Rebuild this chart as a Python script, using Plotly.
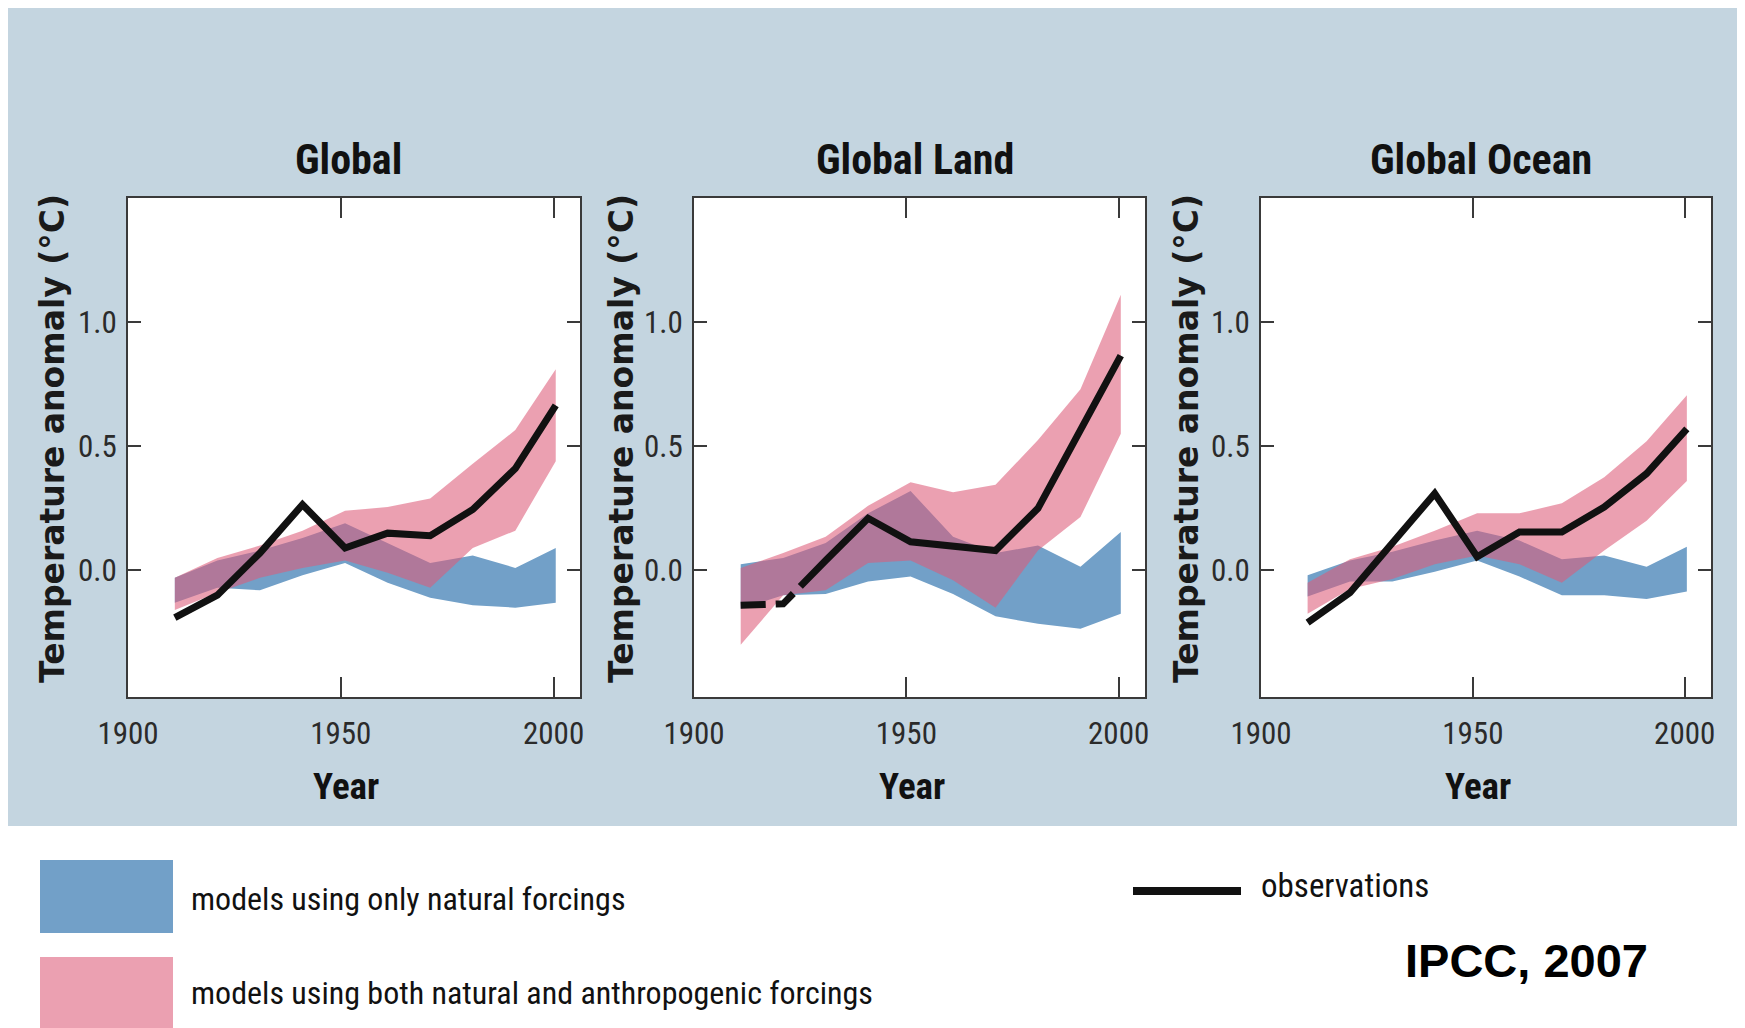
import plotly.graph_objects as go

# ---------------- data ----------------
years = [1911, 1921, 1931, 1941, 1951, 1961, 1971, 1981, 1991, 2000.5]

panel_titles = ["Global", "Global Land", "Global Ocean"]
x_ticks = [1900, 1950, 2000]
y_ticks = [0.0, 0.5, 1.0]
y_tick_text = ["0.0", "0.5", "1.0"]

# Global
obs_global     = [-0.19, -0.10, 0.07, 0.265, 0.09, 0.15, 0.14, 0.245, 0.41, 0.665]
both_hi_global = [-0.03, 0.05, 0.10, 0.16, 0.24, 0.255, 0.29, 0.43, 0.565, 0.81]
both_lo_global = [-0.16, -0.09, -0.03, 0.01, 0.04, -0.01, -0.07, 0.09, 0.16, 0.44]
nat_hi_global  = [-0.03, 0.04, 0.08, 0.13, 0.19, 0.11, 0.03, 0.06, 0.01, 0.09]
nat_lo_global  = [-0.13, -0.07, -0.08, -0.02, 0.03, -0.05, -0.11, -0.14, -0.15, -0.13]

# Global Land
obs_land     = [-0.14, -0.135, 0.04, 0.21, 0.115, 0.10, 0.08, 0.25, 0.56, 0.865]
both_hi_land = [0.01, 0.07, 0.135, 0.26, 0.355, 0.315, 0.345, 0.525, 0.73, 1.11]
both_lo_land = [-0.30, -0.10, -0.08, 0.03, 0.04, -0.04, -0.15, 0.08, 0.215, 0.55]
nat_hi_land  = [0.025, 0.05, 0.11, 0.23, 0.32, 0.135, 0.07, 0.10, 0.015, 0.155]
nat_lo_land  = [-0.155, -0.10, -0.095, -0.045, -0.025, -0.095, -0.185, -0.215, -0.235, -0.175]

# Global Ocean
obs_ocean     = [-0.21, -0.09, 0.11, 0.31, 0.055, 0.155, 0.155, 0.255, 0.39, 0.57]
both_hi_ocean = [-0.05, 0.045, 0.095, 0.16, 0.23, 0.23, 0.27, 0.375, 0.52, 0.705]
both_lo_ocean = [-0.175, -0.075, -0.035, 0.025, 0.06, 0.025, -0.05, 0.08, 0.20, 0.36]
nat_hi_ocean  = [-0.02, 0.04, 0.075, 0.12, 0.16, 0.12, 0.045, 0.06, 0.015, 0.095]
nat_lo_ocean  = [-0.105, -0.045, -0.045, -0.005, 0.04, -0.025, -0.10, -0.10, -0.115, -0.085]

legend_natural = "models using only natural forcings"
legend_both = "models using both natural and anthropogenic forcings"
legend_obs = "observations"
source_text = "IPCC, 2007"
x_title = "Year"
y_title = "Temperature anomaly (°C)"

# ---------------- styling ----------------
PAGE_OFF = 8            # default page body margin around the figure
W, H = 1745 - PAGE_OFF, 1028 - PAGE_OFF
BG_BLUE = "#c4d5e0"
NAT_COLOR = "#72a0c8"
BOTH_COLOR = "rgba(220,91,120,0.58)"
BOTH_SOLID = "#eba0b1"
AXIS_COLOR = "#3a3a3a"
COND = "Roboto Condensed, Open Sans Condensed, DejaVu Sans Condensed, Liberation Sans, sans-serif"
WIDE = "DejaVu Sans, Verdana, sans-serif"


def X(px):  # page pixel -> paper fraction
    return (px - PAGE_OFF) / W


def Y(py):
    return 1 - (py - PAGE_OFF) / H


panels = [
    dict(sfx="", xpx=(128, 580), obs=obs_global, bh=both_hi_global, bl=both_lo_global,
         nh=nat_hi_global, nl=nat_lo_global, title_x=348, year_x=346, ytitle_x=52, dash="solid"),
    dict(sfx="2", xpx=(694, 1145), obs=obs_land, bh=both_hi_land, bl=both_lo_land,
         nh=nat_hi_land, nl=nat_lo_land, title_x=915, year_x=912, ytitle_x=621,
         dash="25px,10px,22px,10px,3000px"),
    dict(sfx="3", xpx=(1261, 1711), obs=obs_ocean, bh=both_hi_ocean, bl=both_lo_ocean,
         nh=nat_hi_ocean, nl=nat_lo_ocean, title_x=1481, year_x=1478, ytitle_x=1186, dash="solid"),
]

Y_TOP_PX, Y_BOT_PX = 198, 697
y_domain = [Y(Y_BOT_PX), Y(Y_TOP_PX)]

fig = go.Figure()
layout = dict(
    width=W, height=H, margin=dict(l=0, r=0, t=0, b=0, autoexpand=False),
    paper_bgcolor="white", plot_bgcolor="rgba(0,0,0,0)",
    showlegend=False,
)
shapes = [
    dict(type="rect", xref="paper", yref="paper", x0=0.0, x1=1.0, y0=Y(826), y1=1.0,
         fillcolor=BG_BLUE, line=dict(width=0), layer="below"),
]
annotations = []

for i, p in enumerate(panels):
    xa = "x" + p["sfx"]
    ya = "y" + p["sfx"]
    back = list(reversed(years))
    fig.add_trace(go.Scatter(
        x=years + back, y=p["nh"] + list(reversed(p["nl"])),
        fill="toself", fillcolor=NAT_COLOR, mode="lines", line=dict(width=0),
        hoverinfo="skip", xaxis=xa, yaxis=ya, name=legend_natural))
    fig.add_trace(go.Scatter(
        x=years + back, y=p["bh"] + list(reversed(p["bl"])),
        fill="toself", fillcolor=BOTH_COLOR, mode="lines", line=dict(width=0),
        hoverinfo="skip", xaxis=xa, yaxis=ya, name=legend_both))
    fig.add_trace(go.Scatter(
        x=years, y=p["obs"], mode="lines",
        line=dict(color="#111111", width=7, dash=p["dash"]),
        xaxis=xa, yaxis=ya, name=legend_obs))

    xkey = "xaxis" + p["sfx"]
    ykey = "yaxis" + p["sfx"]
    layout[xkey] = dict(
        domain=[X(p["xpx"][0]), X(p["xpx"][1])], anchor=ya, automargin=False,
        range=[1900, 2006.2], tickvals=x_ticks, ticktext=[str(t) for t in x_ticks],
        ticks="inside", ticklen=20, tickwidth=2, tickcolor=AXIS_COLOR,
        mirror="ticks", showline=True, linewidth=2, linecolor=AXIS_COLOR,
        showgrid=False, zeroline=False, ticklabelstandoff=8,
        tickfont=dict(family=COND, size=31, color="#2b2b2b"))
    layout[ykey] = dict(
        domain=y_domain, anchor=xa, automargin=False,
        range=[-0.51, 1.5], tickvals=y_ticks, ticktext=y_tick_text,
        ticks="inside", ticklen=13, tickwidth=2, tickcolor=AXIS_COLOR,
        mirror="ticks", showline=True, linewidth=2, linecolor=AXIS_COLOR,
        showgrid=False, zeroline=False, ticklabelstandoff=3,
        tickfont=dict(family=COND, size=31, color="#2b2b2b"))

    shapes.append(dict(type="rect", xref=xa + " domain", yref=ya + " domain",
                       x0=0, x1=1, y0=0, y1=1, fillcolor="white",
                       line=dict(width=0), layer="below"))

    annotations.append(dict(text="<b>" + panel_titles[i] + "</b>", xref="paper", yref="paper",
                            x=X(p["title_x"]), y=Y(159), xanchor="center", yanchor="middle",
                            showarrow=False, font=dict(family=COND, size=42, color="#111111")))
    annotations.append(dict(text="<b>" + x_title + "</b>", xref="paper", yref="paper",
                            x=X(p["year_x"]), y=Y(786), xanchor="center", yanchor="middle",
                            showarrow=False, font=dict(family=COND, size=37, color="#111111")))
    annotations.append(dict(text="<b>" + y_title + "</b>", xref="paper", yref="paper",
                            x=X(p["ytitle_x"]), y=Y(439), xanchor="center", yanchor="middle",
                            textangle=-90, showarrow=False,
                            font=dict(family=WIDE, size=33, color="#1a1a1a")))

# legend (drawn as shapes + text)
shapes += [
    dict(type="rect", xref="paper", yref="paper", x0=X(40), x1=X(173), y0=Y(933), y1=Y(860),
         fillcolor=NAT_COLOR, line=dict(width=0)),
    dict(type="rect", xref="paper", yref="paper", x0=X(40), x1=X(173), y0=0.0, y1=Y(957),
         fillcolor=BOTH_SOLID, line=dict(width=0)),
    dict(type="line", xref="paper", yref="paper", x0=X(1133), x1=X(1241), y0=Y(891), y1=Y(891),
         line=dict(color="#111111", width=8)),
]
annotations += [
    dict(text=legend_natural, xref="paper", yref="paper", x=X(189), y=Y(899),
         xanchor="left", yanchor="middle", showarrow=False,
         font=dict(family=COND, size=32, color="#111111")),
    dict(text=legend_both, xref="paper", yref="paper", x=X(189), y=Y(993),
         xanchor="left", yanchor="middle", showarrow=False,
         font=dict(family=COND, size=32, color="#111111")),
    dict(text=legend_obs, xref="paper", yref="paper", x=X(1259), y=Y(885),
         xanchor="left", yanchor="middle", showarrow=False,
         font=dict(family=COND, size=33, color="#111111")),
    dict(text="<b>" + source_text + "</b>", xref="paper", yref="paper", x=X(1403), y=Y(960),
         xanchor="left", yanchor="middle", showarrow=False,
         font=dict(family="Liberation Sans, Arial, sans-serif", size=47, color="#000000")),
]

layout["shapes"] = shapes
layout["annotations"] = annotations
fig.update_layout(**layout)
fig.write_html("out.html")
